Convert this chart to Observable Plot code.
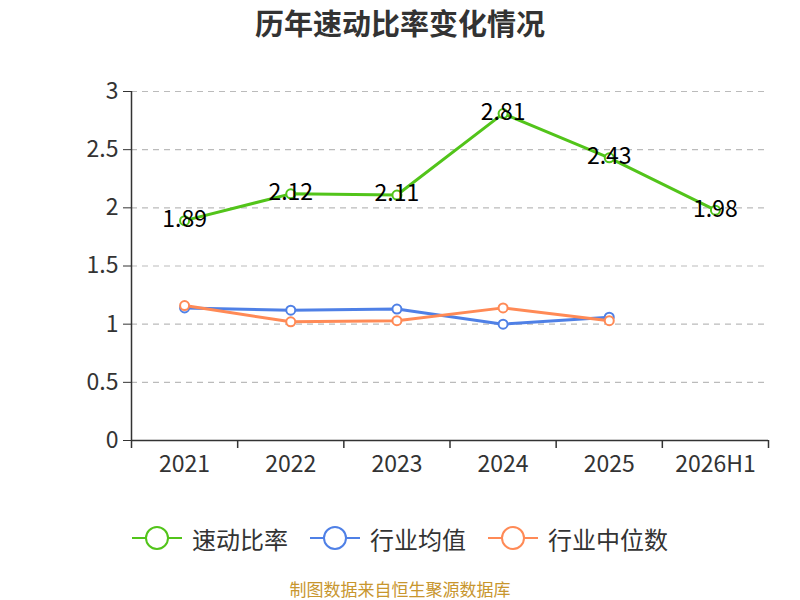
<!DOCTYPE html>
<html><head><meta charset="utf-8">
<script src="https://cdn.jsdelivr.net/npm/d3@7"></script>
<script src="https://cdn.jsdelivr.net/npm/@observablehq/plot@0.6"></script>
<style>
body{margin:0;background:#fff;font-family:"Noto Sans CJK SC","Noto Sans",sans-serif;}
#wrap{width:800px;height:600px;position:relative;overflow:hidden}
#title{position:absolute;top:0;left:0;width:800px;text-align:center;font-size:29px;font-weight:bold;color:#333;line-height:44px}
#chart{position:absolute;top:60px;left:0}
#legend{position:absolute;top:521px;left:0;width:800px;height:34px;display:flex;justify-content:center;align-items:center;gap:22px;font-size:24px;color:#333}
.li{display:flex;align-items:center;gap:10px}
#cap{position:absolute;top:579px;left:0;width:800px;text-align:center;font-size:17px;line-height:20px;color:#c8962e}
</style></head><body>
<div id="wrap">
<div id="title">历年速动比率变化情况</div>
<div id="chart"></div>
<div id="legend"></div>
<div id="cap">制图数据来自恒生聚源数据库</div>
</div>
<script>
const categories = ["2021","2022","2023","2024","2025","2026H1"];
const quickRatio = [1.89, 2.12, 2.11, 2.81, 2.43, 1.98];
const industryMean = [1.14, 1.12, 1.13, 1.00, 1.06];
const industryMedian = [1.16, 1.02, 1.03, 1.14, 1.03];
const yTicks = [0, 0.5, 1, 1.5, 2, 2.5, 3];
const seriesNames = ["速动比率","行业均值","行业中位数"];
const colors = ["#52c41a","#4f80e6","#ff8a56"];

const rows = [];
[quickRatio, industryMean, industryMedian].forEach((arr, s) => {
  arr.forEach((v, i) => rows.push({series: seriesNames[s], idx: i + 0.5, value: v}));
});
const green = rows.filter(d => d.series === seriesNames[0]);
const others = rows.filter(d => d.series !== seriesNames[0]);
const boundaries = d3.range(categories.length + 1);
const centers = categories.map((c, i) => i + 0.5);

const chart = Plot.plot({
  width: 800, height: 420,
  marginLeft: 131, marginRight: 32, marginTop: 31, marginBottom: 40,
  style: {fontFamily: '"Noto Sans CJK SC","Noto Sans",sans-serif', background: "#fff"},
  x: {type: "linear", domain: [0, categories.length]},
  y: {domain: [0, 3]},
  color: {domain: seriesNames, range: colors},
  marks: [
    Plot.gridY(yTicks, {stroke: "#bbb", strokeOpacity: 1, strokeDasharray: "6,5", strokeWidth: 1.2}),
    Plot.axisY(yTicks, {tickSize: 8, tickPadding: 5, fontSize: 23, color: "#333", stroke: "#333", label: null, tickFormat: d => String(d)}),
    Plot.ruleX([0], {stroke: "#333", strokeWidth: 1.5}),
    Plot.ruleY([0], {stroke: "#333", strokeWidth: 1.5}),
    Plot.axisX(boundaries, {tickSize: 8, tickFormat: () => "", stroke: "#333", strokeWidth: 1.5, label: null}),
    Plot.axisX(centers, {tickSize: 0, tickPadding: 15, fontSize: 23, fill: "#333", label: null, tickFormat: (d) => categories[Math.floor(d)]}),
    Plot.line(others, {x: "idx", y: "value", z: "series", stroke: "series", strokeWidth: 3}),
    Plot.dot(others, {x: "idx", y: "value", stroke: "series", fill: "#fff", r: 4.5, strokeWidth: 2}),
    Plot.line(green, {x: "idx", y: "value", stroke: "series", strokeWidth: 3}),
    Plot.dot(green, {x: "idx", y: "value", stroke: "series", fill: "#fff", r: 4.5, strokeWidth: 2}),
    Plot.text(green, {x: "idx", y: "value", text: d => d.value.toFixed(2), fontSize: 23, fill: "#000", dy: -1})
  ]
});
document.getElementById("chart").appendChild(chart);

const lg = document.getElementById("legend");
seriesNames.forEach((n, i) => {
  const el = document.createElement("div");
  el.className = "li";
  el.innerHTML = `<svg width="50" height="26"><line x1="0" x2="50" y1="13" y2="13" stroke="${colors[i]}" stroke-width="2"/><circle cx="25" cy="13" r="11" fill="#fff" stroke="${colors[i]}" stroke-width="2"/></svg><span>${n}</span>`;
  lg.appendChild(el);
});
</script>
</body></html>
